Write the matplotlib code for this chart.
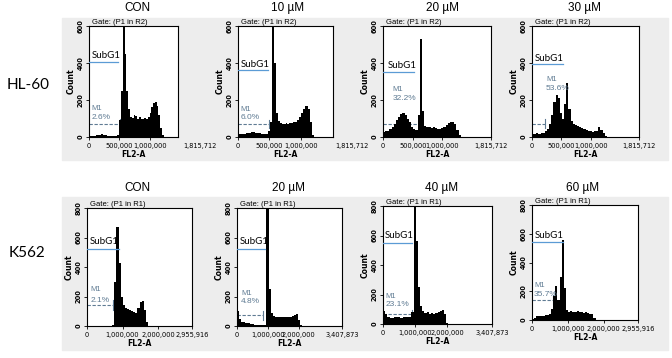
import numpy as np
import matplotlib
matplotlib.use("Agg")
import matplotlib.pyplot as plt
from matplotlib.patches import Rectangle

W, H = 672, 358

HL60_TITLES = ["CON", "10 µM", "20 µM", "30 µM"]
K562_TITLES = ["CON", "20 µM", "40 µM", "60 µM"]
HL60_M1 = ["2.6%", "6.0%", "32.2%", "53.6%"]
K562_M1 = ["2.1%", "4.8%", "23.1%", "35.7%"]

# instrument range (last tick label) and the part of it that the frame shows
HL60_XMAX = [1815712, 1815712, 1815712, 1815712]
HL60_XSHOWN = [1460000, 1510000, 1815712, 1815712]
K562_XMAX = [2955916, 3407873, 3407873, 2955916]
K562_XSHOWN = [2955916, 3407873, 3407873, 2955916]
HL60_XTICKS = [0, 500000, 1000000]
K562_XTICKS = [0, 1000000, 2000000]
HL60_YTICKS = [0, 200, 400, 600]
K562_YTICKS = [0, 200, 400, 600, 800]

N_BINS = 50  # channels across the shown FL2-A range

# counts per channel (channels after the list are empty)
HL60_CON = [6, 6, 8, 8, 10, 10, 12, 14, 12, 10, 8, 8, 6, 6, 6, 8, 10, 90, 250, 600,
            450, 250, 150, 110, 105, 120, 115, 100, 110, 95, 100, 105, 95, 110, 130, 160,
            185, 190, 170, 120, 50, 10]
HL60_10 = [15, 15, 18, 18, 20, 22, 22, 25, 25, 22, 22, 20, 18, 18, 15, 15, 30, 80, 600, 400,
           130, 85, 75, 70, 72, 75, 70, 78, 75, 80, 80, 90, 110, 130, 150, 165, 170, 150, 80, 10]
HL60_20 = [25, 30, 35, 45, 55, 70, 90, 110, 125, 130, 120, 100, 80, 55, 45, 40, 120, 530,
           140, 60, 55, 55, 50, 52, 48, 45, 45, 50, 55, 65, 75, 80, 82, 70, 40, 10]
HL60_30 = [15, 18, 20, 18, 20, 22, 30, 45, 70, 120, 190, 225, 210, 130, 95, 180, 290, 150,
           85, 70, 65, 60, 55, 50, 45, 38, 32, 30, 28, 30, 35, 55, 40, 20, 5]
K562_CON = [0, 0, 0, 0, 0, 0, 0, 0, 0, 0, 0, 0, 10, 300, 670, 430, 200, 140, 125, 115, 110,
            105, 95, 90, 120, 165, 170, 110, 30]
K562_20 = [100, 45, 30, 25, 20, 18, 15, 12, 10, 8, 8, 6, 5, 5, 800, 250, 90, 65, 60, 62, 58,
           60, 62, 60, 58, 62, 65, 75, 80, 40, 5]
K562_40 = [90, 70, 45, 40, 42, 45, 48, 45, 42, 45, 48, 45, 50, 80, 800, 560, 250, 120, 85,
           75, 80, 70, 75, 70, 72, 78, 85, 95, 70, 10]
K562_60 = [5, 15, 25, 30, 28, 30, 32, 35, 45, 80, 170, 235, 140, 300, 560, 220, 70, 55, 60,
           58, 55, 60, 55, 58, 52, 55, 50, 45, 40, 15]

HL60_COUNTS = [HL60_CON, HL60_10, HL60_20, HL60_30]
K562_COUNTS = [K562_CON, K562_20, K562_40, K562_60]

# frame boxes in pixels: left, top, right, bottom
HL60_BOXES = [(89, 26, 178, 137), (238, 26, 333, 137), (383, 26, 491, 137), (532, 26, 639, 137)]
K562_BOXES = [(87, 208, 192, 326), (237, 208, 342, 326), (383, 206, 492, 324), (532, 205, 638, 320)]
HL60_TITLE_X = [137, 288, 443, 585]
K562_TITLE_X = [137, 288, 442, 583]

# annotation placement: subG1 text x, text y, line y, line end | M1 text x, M1 y, pct y, line y, line end
HL60_MARKS = [
    (0.03, 440, 406, 0.33, 0.03, 156, 106, 72, 0.35),
    (0.03, 394, 360, 0.32, 0.03, 147, 104, 70, 0.33),
    (0.04, 387, 353, 0.29, 0.09, 258, 210, 68, 0.33),
    (0.03, 423, 393, 0.29, 0.13, 310, 263, 72, 0.12),
]
K562_MARKS = [
    (0.03, 573, 520, 0.30, 0.03, 250, 170, 141, 0.25),
    (0.03, 573, 520, 0.27, 0.04, 220, 164, 73, 0.25),
    (0.02, 600, 550, 0.27, 0.02, 186, 130, 66, 0.27),
    (0.03, 586, 540, 0.29, 0.02, 237, 174, 140, 0.20),
]

NARROW = ["Liberation Sans Narrow", "DejaVu Sans"]
ARIAL = ["Liberation Sans", "DejaVu Sans"]
CALIBRI = ["Lato", "DejaVu Sans"]
M1_COLOR = "#5f7b93"
SUB_COLOR = "#5b9bd5"


def draw_panel(fig, box, counts, xmax, shown, xticks, yticks, gate, pct, marks):
    left, top, right, bottom = box
    ax = fig.add_axes([left / W, 1 - bottom / H, (right - left) / W, (bottom - top) / H])
    ymax = yticks[-1]

    edges = np.linspace(0, shown, N_BINS + 1)[:len(counts) + 1]
    ax.stairs(counts, edges, fill=True, color="black", lw=0, zorder=3)

    sx, sy, sly, send, mx, my, py, mly, mend = marks
    # SubG1 marker
    ax.text(sx * shown, sy, "SubG1", fontsize=7, family=CALIBRI, va="center", ha="left", zorder=5)
    ax.plot([0, send * shown], [sly, sly], color=SUB_COLOR, lw=0.9, zorder=4)
    # M1 gate
    ax.plot([0, mend * shown], [mly, mly], color=M1_COLOR, lw=0.8, ls=(0, (3, 1.5)), zorder=2)
    tick = ymax * 0.04
    ax.plot([mend * shown] * 2, [mly - tick, mly + tick], color=M1_COLOR, lw=0.8, zorder=2)
    ax.text(mx * shown, my, "M1", fontsize=5.5, family=ARIAL, color=M1_COLOR, va="center", zorder=5)
    ax.text(mx * shown, py, pct, fontsize=6, family=ARIAL, color=M1_COLOR, va="center", zorder=5)

    ax.text(0.03, 1.0, gate, transform=ax.transAxes, fontsize=5.5, family=ARIAL,
            va="bottom", ha="left")

    ax.set_xlim(0, shown)
    ax.set_ylim(0, ymax)
    ticks = xticks + ([xmax] if xmax <= shown else [])
    ax.set_xticks(ticks)
    ax.set_xticklabels([f"{v:,}" for v in ticks], family=NARROW, fontsize=4.8)
    if xmax > shown:
        # range end lies past the cropped frame
        ax.annotate(f"{xmax:,}", xy=(xmax, 0), xycoords=("data", "axes fraction"),
                    xytext=(0, -4), textcoords="offset points", ha="center", va="top",
                    family=NARROW, fontsize=4.8, annotation_clip=False)
    ax.set_yticks(yticks)
    ax.set_yticklabels([str(v) for v in yticks], family=NARROW, fontsize=4.8,
                       rotation=90, va="center", fontweight="bold")
    ax.set_xlabel("FL2-A", family=NARROW, fontsize=5.5, fontweight="bold", labelpad=1)
    ax.set_ylabel("Count", family=NARROW, fontsize=5.5, fontweight="bold", labelpad=1)
    ax.tick_params(length=2.5, width=0.6, pad=1.5)
    for spine in ax.spines.values():
        spine.set_linewidth(0.8)
    ax.set_facecolor("white")
    return ax


def main():
    fig = plt.figure(figsize=(W / 100, H / 100), dpi=100)

    # grey panel backgrounds of each row
    for top, bottom in [(18, 160), (197, 350)]:
        fig.patches.append(Rectangle((62 / W, 1 - bottom / H), (668 - 62) / W, (bottom - top) / H,
                                     transform=fig.transFigure, color="#ededed", zorder=-10))

    for i in range(4):
        draw_panel(fig, HL60_BOXES[i], HL60_COUNTS[i], HL60_XMAX[i], HL60_XSHOWN[i],
                   HL60_XTICKS, HL60_YTICKS, "Gate: (P1 in R2)", HL60_M1[i], HL60_MARKS[i])
        fig.text(HL60_TITLE_X[i] / W, 1 - 8 / H, HL60_TITLES[i], ha="center", va="center",
                 fontsize=8.5, family=ARIAL)
        draw_panel(fig, K562_BOXES[i], K562_COUNTS[i], K562_XMAX[i], K562_XSHOWN[i],
                   K562_XTICKS, K562_YTICKS, "Gate: (P1 in R1)", K562_M1[i], K562_MARKS[i])
        fig.text(K562_TITLE_X[i] / W, 1 - 188 / H, K562_TITLES[i], ha="center", va="center",
                 fontsize=8.5, family=ARIAL)

    fig.text(28 / W, 1 - 85 / H, "HL-60", ha="center", va="center", fontsize=11, family=CALIBRI)
    fig.text(27 / W, 1 - 253 / H, "K562", ha="center", va="center", fontsize=11, family=CALIBRI)

    fig.savefig("out.png", dpi=100)


if __name__ == "__main__":
    main()
